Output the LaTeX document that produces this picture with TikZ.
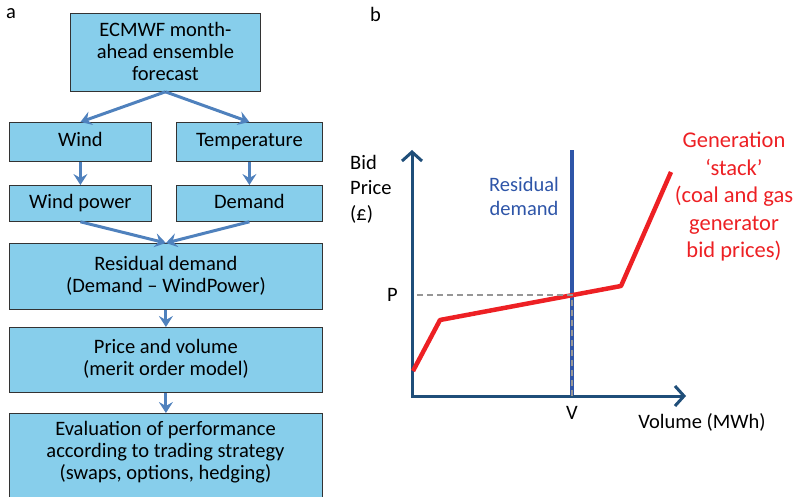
\documentclass[tikz,border=0pt]{standalone}
\usepackage{fontspec}
\setmainfont{Carlito}
\usetikzlibrary{arrows.meta}
\definecolor{boxfill}{RGB}{135,206,235}
\definecolor{flowarrow}{RGB}{79,129,189}
\definecolor{axisblue}{RGB}{31,78,121}
\definecolor{resblue}{RGB}{46,85,168}
\definecolor{stackred}{RGB}{237,32,36}
\definecolor{dashgray}{RGB}{150,150,150}
\begin{document}
\begin{tikzpicture}[x=1pt,y=-1pt,
  flowbox/.style={draw=black!80,line width=0.8pt,fill=boxfill,inner sep=0pt,
    align=center,font=\fontsize{20.5}{22}\selectfont,anchor=north west,text depth=0.45em},
  flowarrow/.style={draw=flowarrow,line width=3pt,-{Stealth[length=11pt,width=14pt,inset=4pt]}},
  axisline/.style={draw=axisblue,line width=3pt,-{Straight Barb[length=9pt,width=20pt,line width=3pt]}},
  lbl/.style={font=\fontsize{20.5}{24}\selectfont,inner sep=0pt}]
\useasboundingbox (0,0) rectangle (794,497);
\begin{scope}
\clip (0,0) rectangle (794,497);
% panel labels
\node[lbl,anchor=west] (la) at (6,14) {a};
\node[lbl,anchor=west] (lb) at (370,14) {b};
% boxes
\node[flowbox,minimum width=190pt,minimum height=78pt,text depth=0.2em] (ecmwf) at (70,13) {ECMWF month-\\ahead ensemble\\forecast};
\node[flowbox,minimum width=142pt,minimum height=39pt] (wind) at (9,122) {Wind};
\node[flowbox,minimum width=146pt,minimum height=39pt] (temp) at (176,122) {Temperature};
\node[flowbox,minimum width=142pt,minimum height=36pt] (wp) at (9,185) {Wind power};
\node[flowbox,minimum width=146pt,minimum height=36pt] (dem) at (176,185) {Demand};
\node[flowbox,minimum width=313pt,minimum height=66pt] (res) at (9,243) {Residual demand\\(Demand -- WindPower)};
\node[flowbox,minimum width=313pt,minimum height=65pt] (pv) at (9,327) {Price and volume\\(merit order model)};
\node[flowbox,minimum width=313pt,minimum height=100pt,text depth=0pt] (ev) at (9,413) {};
\node[align=center,font=\fontsize{20.5}{22}\selectfont,inner sep=0pt,anchor=north] (evt) at (165.5,421) {Evaluation of performance\\according to trading strategy\\(swaps, options, hedging)};
% flow arrows
\draw[flowarrow] (ecmwf.south) -- (wind.north);
\draw[flowarrow] (ecmwf.south) -- (temp.north);
\draw[flowarrow] (wind.south) -- (wp.north);
\draw[flowarrow] (temp.south) -- (dem.north);
\draw[flowarrow] (wp.south) -- (res.north);
\draw[flowarrow] (dem.south) -- (res.north);
\draw[flowarrow] (res.south) -- (pv.north);
\draw[flowarrow] (pv.south) -- (ev.north);
\end{scope}
% right panel
\coordinate (O) at (412,396);
\coordinate (ytip) at (412,150);
\coordinate (xtip) at (686,396);
\coordinate (vtop) at (572,150);
\coordinate (vbot) at (572,396);
\coordinate (r1) at (413,371);
\coordinate (r2) at (440,320);
\coordinate (r3) at (621,286);
\coordinate (r4) at (671,172);
\coordinate (pstart) at (417,295);
\coordinate (pv1) at (572,295);
\draw[resblue,line width=4.5pt] (vbot) -- (vtop);
\draw[axisline,line cap=rect] (O) -- (ytip);
\draw[axisline] (O) -- (xtip);
\draw[stackred,line width=4.5pt,line join=round] (r1) -- (r2) -- (r3) -- (r4);
\draw[dashgray,line width=2.2pt,dash pattern=on 6pt off 4pt] (pstart) -- (pv1) -- (vbot);
% labels
\node[lbl,anchor=west] (P) at (387,295) {P};
\node[lbl] (V) at (572,413) {V};
\node[lbl] (vol) at (702,422) {Volume (MWh)};
\node[lbl,anchor=north west,align=left,font=\fontsize{20.5}{25.5}\selectfont] (bid) at (350,155) {Bid\\Price\\(£)};
\node[lbl,anchor=north,align=center,text=resblue,font=\fontsize{20.5}{24}\selectfont] (resl) at (524,177) {Residual\\demand};
\node[lbl,anchor=north,align=center,text=stackred,font=\fontsize{22.5}{27.5}\selectfont] (gen) at (734,132) {Generation\\‘stack’\\(coal and gas\\generator\\bid prices)};
\end{tikzpicture}
\end{document}
